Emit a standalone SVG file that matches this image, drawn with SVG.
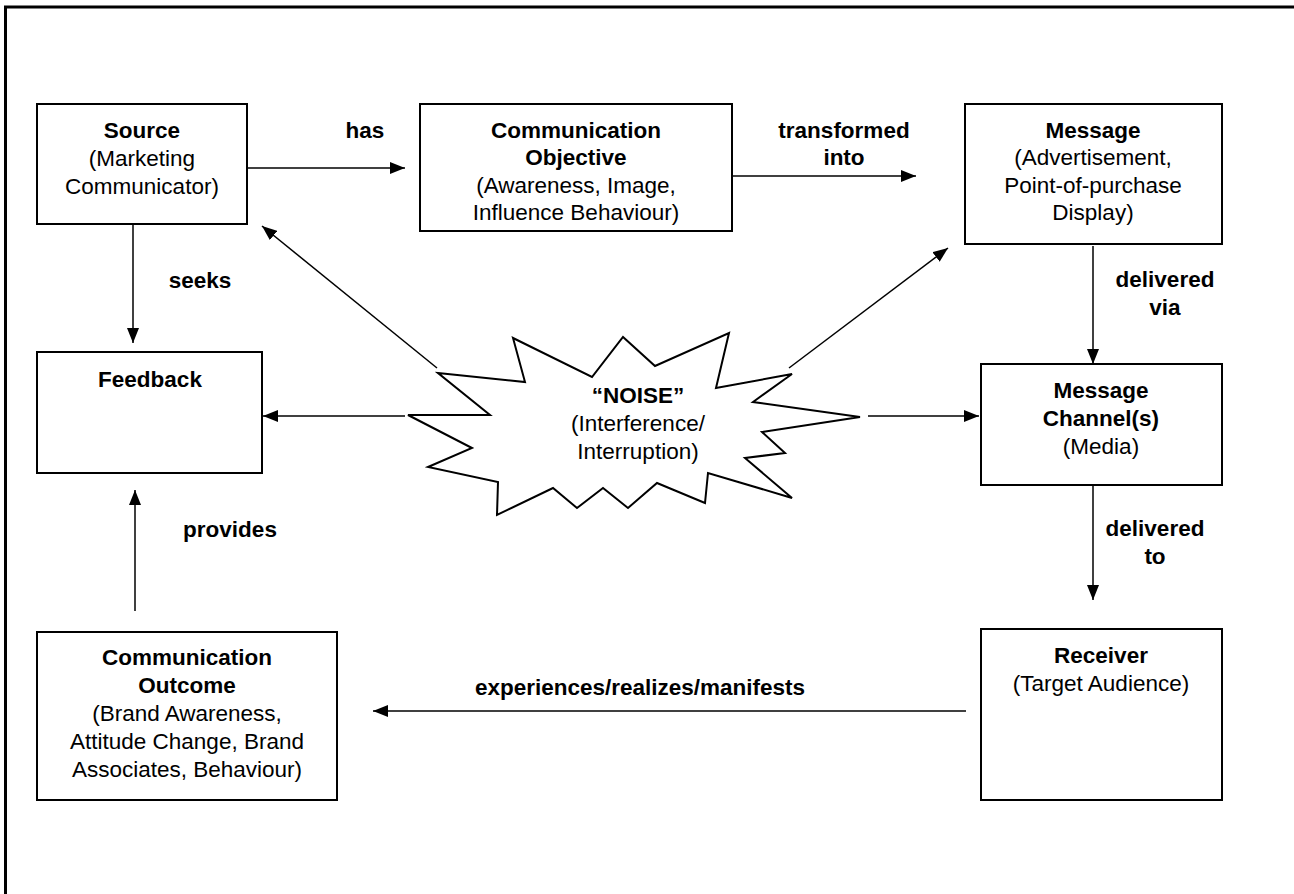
<svg xmlns="http://www.w3.org/2000/svg" width="1294" height="894" viewBox="0 0 1294 894">
  <defs>
    <marker id="arrow" markerUnits="userSpaceOnUse" markerWidth="16" markerHeight="12" refX="15" refY="6" orient="auto">
      <path d="M0,0 L15,6 L0,12 z" fill="#000"/>
    </marker>
    <style>
      .box { fill: #fff; stroke: #000; stroke-width: 2; }
      .conn { fill: none; stroke: #000; stroke-width: 1.5; marker-end: url(#arrow); }
      text { font-family: "Liberation Sans", Arial, sans-serif; font-size: 22.5px; fill: #000; text-anchor: middle; }
      .b { font-weight: bold; }
    </style>
  </defs>
  <rect width="1294" height="894" fill="#fff"/>

  <!-- page frame -->
  <g id="frame">
    <line x1="4" y1="7" x2="1294" y2="7" stroke="#000" stroke-width="3"/>
    <line x1="5.5" y1="6" x2="5.5" y2="894" stroke="#000" stroke-width="3"/>
  </g>

  <!-- connectors -->
  <g id="connectors">
    <line class="conn" x1="247" y1="168" x2="405" y2="168"/>
    <line class="conn" x1="732" y1="176" x2="916" y2="176"/>
    <line class="conn" x1="1093" y1="246" x2="1093" y2="364"/>
    <line class="conn" x1="1093" y1="485" x2="1093" y2="600"/>
    <line class="conn" x1="966" y1="711" x2="373" y2="711"/>
    <line class="conn" x1="135" y1="611" x2="135" y2="490"/>
    <line class="conn" x1="133" y1="224" x2="133" y2="343"/>
    <line class="conn" x1="405" y1="416" x2="263" y2="416"/>
    <line class="conn" x1="868" y1="416" x2="979" y2="416"/>
    <line class="conn" x1="437" y1="368" x2="262" y2="226"/>
    <line class="conn" x1="789" y1="368" x2="948" y2="248"/>

    <text class="b" x="365" y="138">has</text>
    <text class="b" x="844" y="138">transformed</text>
    <text class="b" x="844" y="165">into</text>
    <text class="b" x="1165" y="287">delivered</text>
    <text class="b" x="1165" y="315">via</text>
    <text class="b" x="1155" y="536">delivered</text>
    <text class="b" x="1155" y="564">to</text>
    <text class="b" x="640" y="695">experiences/realizes/manifests</text>
    <text class="b" x="230" y="537">provides</text>
    <text class="b" x="200" y="288">seeks</text>
  </g>

  <g id="source">
    <rect class="box" x="37" y="104" width="210" height="120"/>
    <text class="b" x="142" y="138">Source</text>
    <text x="142" y="166">(Marketing</text>
    <text x="142" y="194">Communicator)</text>
  </g>

  <g id="objective">
    <rect class="box" x="420" y="104" width="312" height="127"/>
    <text class="b" x="576" y="138">Communication</text>
    <text class="b" x="576" y="165">Objective</text>
    <text x="576" y="193">(Awareness, Image,</text>
    <text x="576" y="220">Influence Behaviour)</text>
  </g>

  <g id="message">
    <rect class="box" x="965" y="104" width="257" height="140"/>
    <text class="b" x="1093" y="138">Message</text>
    <text x="1093" y="165">(Advertisement,</text>
    <text x="1093" y="193">Point-of-purchase</text>
    <text x="1093" y="220">Display)</text>
  </g>

  <g id="channel">
    <rect class="box" x="981" y="364" width="241" height="121"/>
    <text class="b" x="1101" y="398">Message</text>
    <text class="b" x="1101" y="426">Channel(s)</text>
    <text x="1101" y="454">(Media)</text>
  </g>

  <g id="receiver">
    <rect class="box" x="981" y="629" width="241" height="171"/>
    <text class="b" x="1101" y="663">Receiver</text>
    <text x="1101" y="691">(Target Audience)</text>
  </g>

  <g id="outcome">
    <rect class="box" x="37" y="632" width="300" height="168"/>
    <text class="b" x="187" y="665">Communication</text>
    <text class="b" x="187" y="693">Outcome</text>
    <text x="187" y="721">(Brand Awareness,</text>
    <text x="187" y="749">Attitude Change, Brand</text>
    <text x="187" y="777">Associates, Behaviour)</text>
  </g>

  <g id="feedback">
    <rect class="box" x="37" y="352" width="225" height="121"/>
    <text class="b" x="150" y="387">Feedback</text>
  </g>

  <g id="noise">
    <polygon class="box" stroke-width="1.5" points="438,373 525,382 513,338 592,377 623,337 655,366 729,333 716,388 792,374 753,402 860,417 762,432 785,453 745,458 792,498 708,473 705,503 657,483 628,508 603,488 577,508 553,488 497,515 498,482 428,467 472,448 408,415 490,415"/>
    <text class="b" x="638" y="403">“NOISE”</text>
    <text x="638" y="431">(Interference/</text>
    <text x="638" y="459">Interruption)</text>
  </g>
</svg>
